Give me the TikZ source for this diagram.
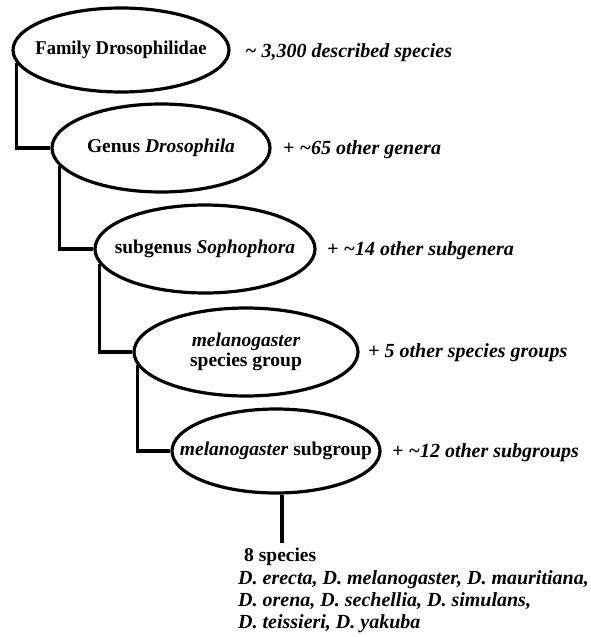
\documentclass[tikz,border=0pt]{standalone}
\usepackage{fontspec}
\usepackage{graphicx}
\setmainfont{Liberation Serif}
\usetikzlibrary{shapes.geometric}
\begin{document}
\begin{tikzpicture}[x=1pt,y=-1pt,
  ell/.style={ellipse, draw, line width=3.2pt, inner sep=0pt, align=center,
    font=\bfseries\fontsize{19.5}{21}\selectfont},
  lab/.style={anchor=base west, inner sep=0pt, font=\bfseries\itshape\fontsize{20}{21}\selectfont},
  conn/.style={line width=3.2pt}]
\useasboundingbox (0,0) rectangle (591,637);
% ellipses
\node[ell, minimum width=216pt, minimum height=84pt] (fam) at (121,50)
  {\makebox[0pt]{\scalebox{0.95}[1]{Family Drosophilidae}}};
\node[ell, minimum width=218pt, minimum height=88pt] (gen) at (161,148)
  {\makebox[0pt]{Genus \textit{Drosophila}}};
\node[ell, minimum width=220pt, minimum height=88pt] (sg) at (205,249)
  {\makebox[0pt]{subgenus \textit{Sophophora}}};
\node[ell, minimum width=224pt, minimum height=88pt] (grp) at (246,352)
  {\makebox[0pt]{\textit{melanogaster}}\\[-1pt]\makebox[0pt]{species group}};
\node[ell, minimum width=208pt, minimum height=84pt] (sub) at (276,451)
  {\makebox[0pt]{\textit{melanogaster} subgroup}};
% side labels
\node[lab] (l1) at (245,57) {\textasciitilde\ 3,300 described species};
\node[lab] (l2) at (283,154.5) {+ \textasciitilde65 other genera};
\node[lab] (l3) at (327,255) {+ \textasciitilde14 other subgenera};
\node[lab] (l4) at (368,357) {+ 5 other species groups};
\node[lab] (l5) at (392,457.5) {+ \textasciitilde12 other subgroups};
% species
\node[anchor=base west, inner sep=0pt, font=\bfseries\fontsize{19.5}{21}\selectfont] (sp) at (244,561) {8 species};
\node[lab] (s1) at (238,584) {D. erecta, D. melanogaster, D. mauritiana,};
\node[lab] (s2) at (238,606) {D. orena, D. sechellia, D. simulans,};
\node[lab] (s3) at (238,628) {D. teissieri, D. yakuba};
\coordinate (e) at (282,543);
% connectors
\draw[conn] (fam.187) |- (gen.west);
\draw[conn] (gen.190.5) |- (sg.west);
\draw[conn] (sg.188.5) |- (grp.west);
\draw[conn] (grp.187) |- (sub.west);
\draw[conn] (sub.south -| e) -- (e);
\end{tikzpicture}
\end{document}
